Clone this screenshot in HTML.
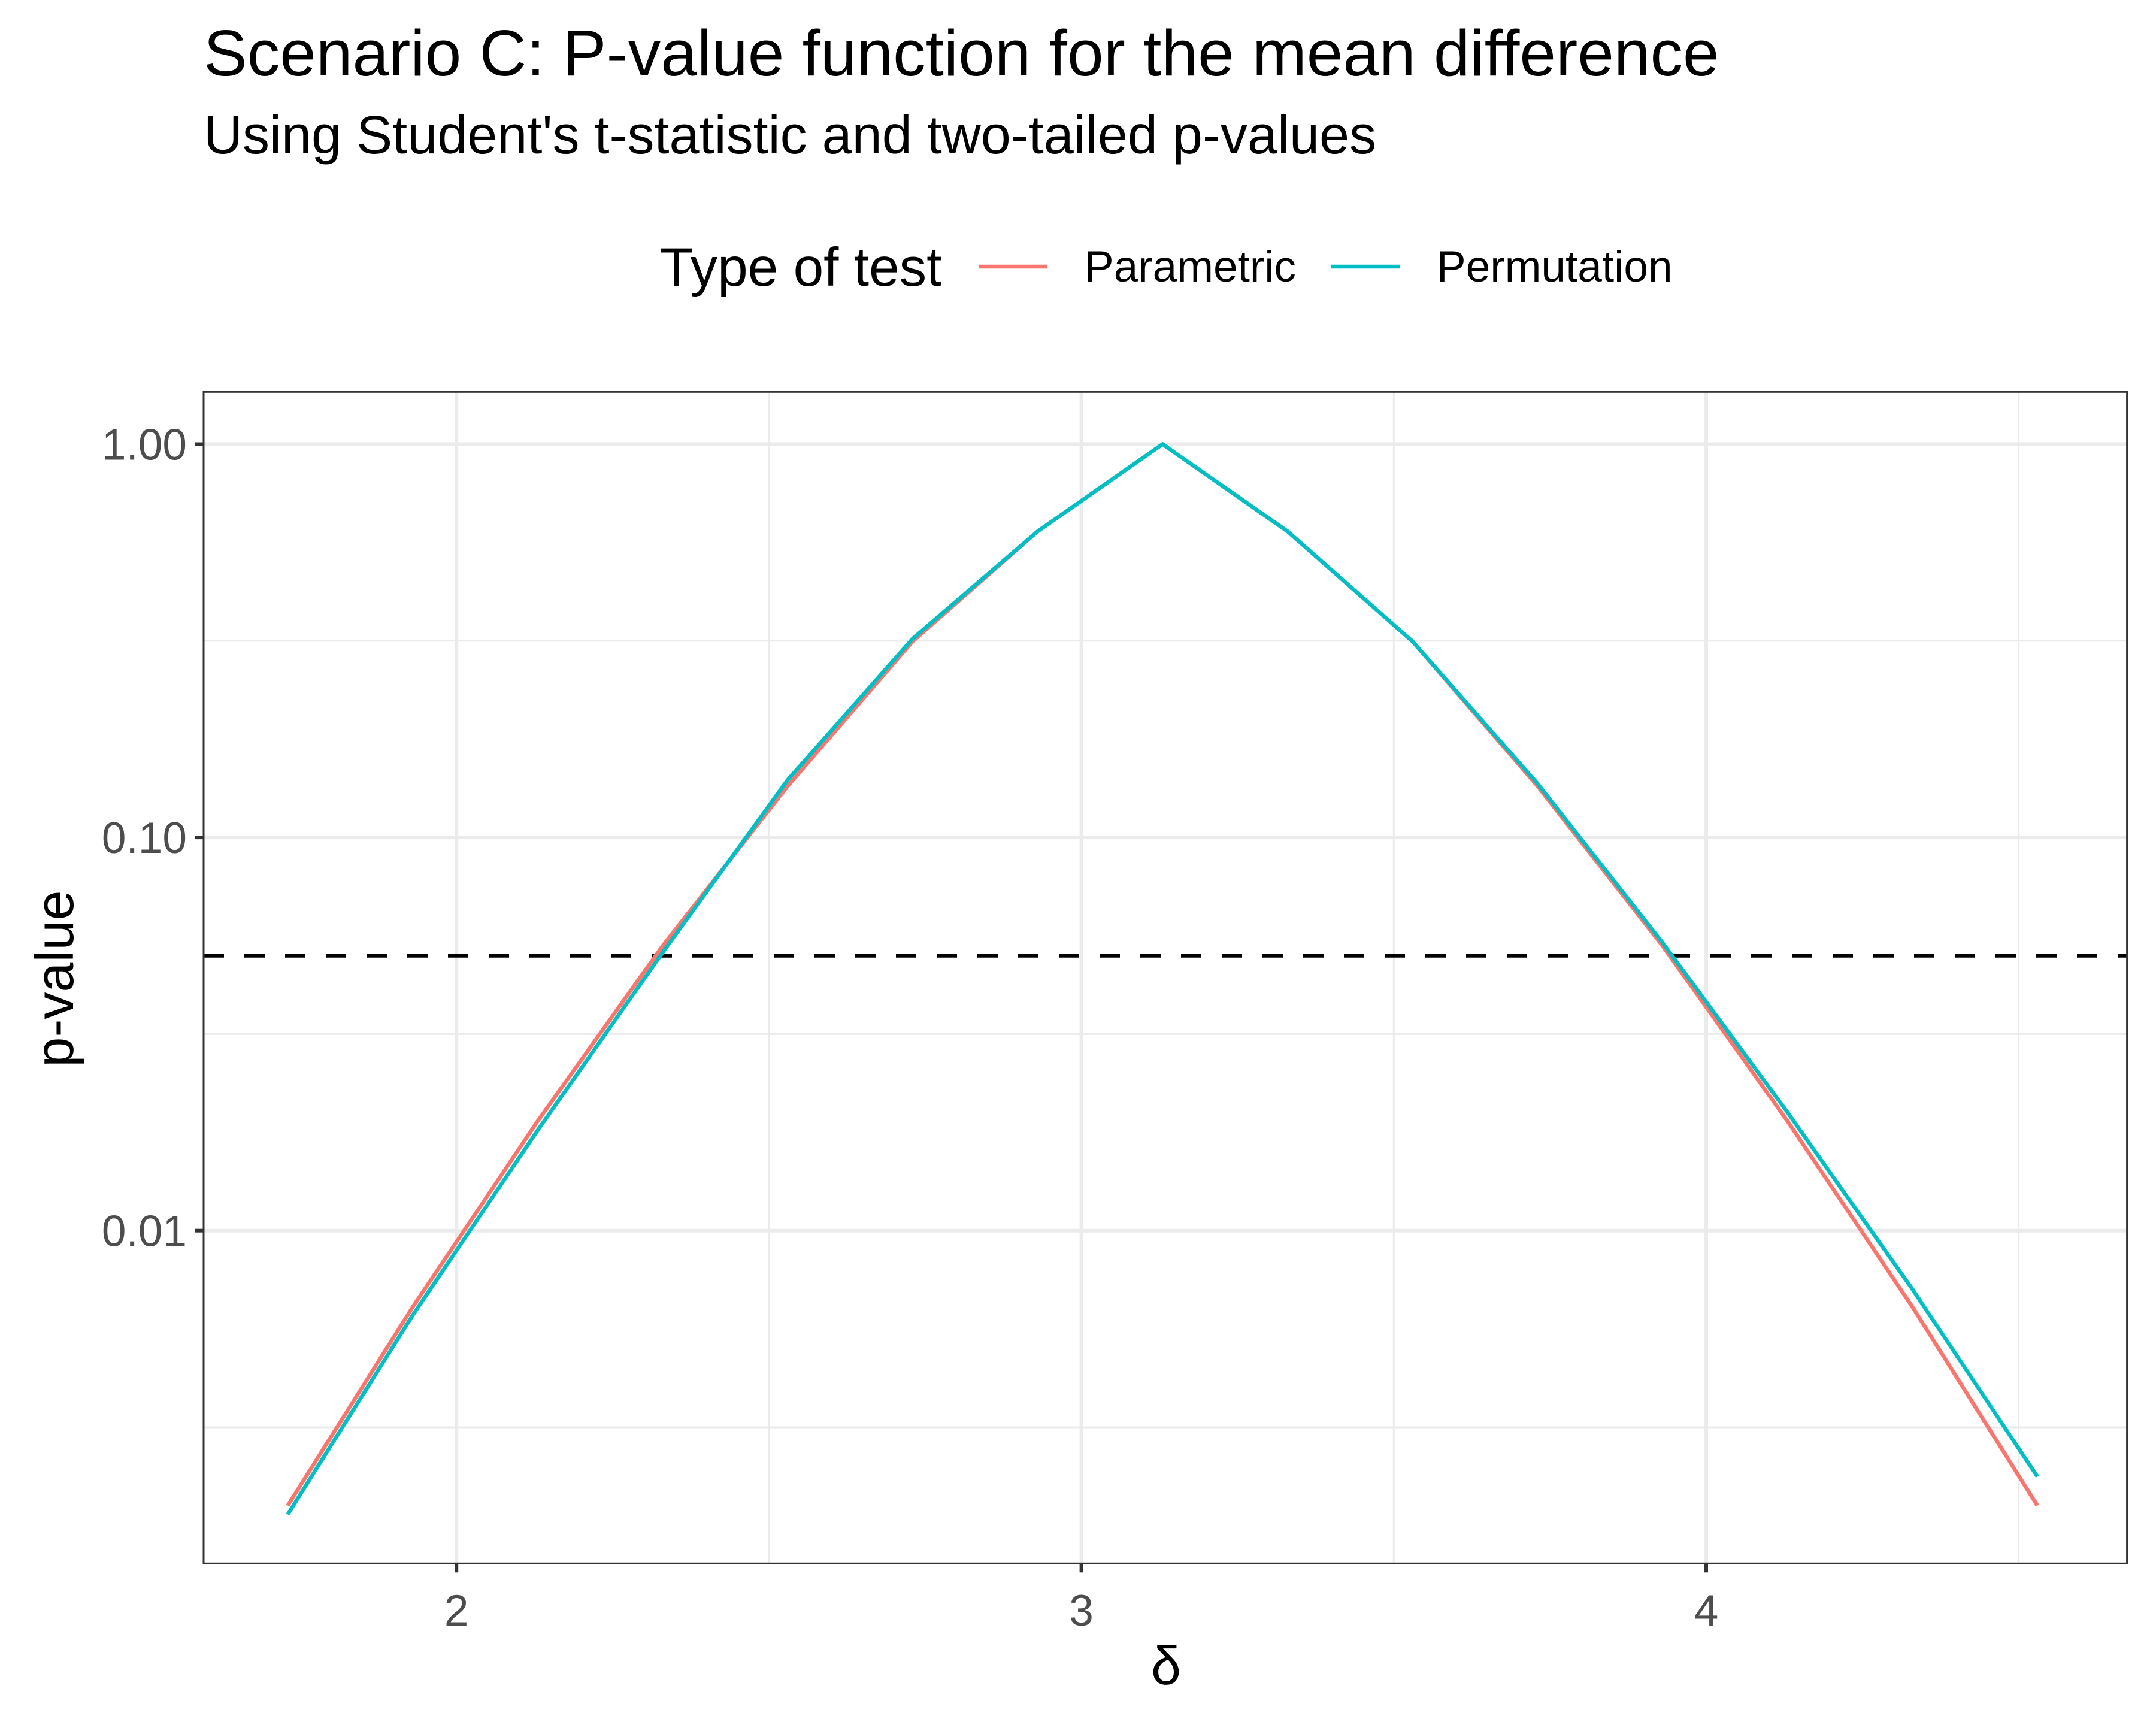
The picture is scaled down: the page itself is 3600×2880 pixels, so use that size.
<!DOCTYPE html>
<html><head><meta charset="utf-8">
<style>
html,body{margin:0;padding:0;background:#fff;}
svg{display:block;font-family:"Liberation Sans",Arial,sans-serif;}
</style></head>
<body>
<svg id="chart" width="3600" height="2880" viewBox="0 0 3600 2880" xmlns="http://www.w3.org/2000/svg">
<rect width="3600" height="2880" fill="#fff"/>
<text x="340" y="126" font-size="109" fill="#000">Scenario C: P-value function for the mean difference</text>
<text x="340" y="256" font-size="90" fill="#000">Using Student's t-statistic and two-tailed p-values</text>
<g>
<text x="1102" y="477" font-size="91" fill="#000">Type of test</text>
<g>
<line x1="1635" y1="445" x2="1749" y2="445" stroke="#F8766D" stroke-width="6.5"/>
<text x="1811" y="470" font-size="73" fill="#000">Parametric</text>
</g>
<g>
<line x1="2222" y1="445" x2="2337" y2="445" stroke="#00BFC4" stroke-width="6.5"/>
<text x="2399" y="470" font-size="73" fill="#000">Permutation</text>
</g>
</g>
<g id="grid"></g>
<g id="marks"></g>
<rect x="340" y="654.3" width="3211.6" height="1956" fill="none" stroke="#333" stroke-width="3"/>
<g id="axes"></g>
<text x="1947" y="2812" font-size="90" text-anchor="middle" fill="#000">δ</text>
<text transform="translate(122,1634) rotate(-90)" font-size="90" text-anchor="middle" fill="#000">p-value</text>
</svg>
<script>
const deltas = [1.73,1.93,2.13,2.33,2.53,2.73,2.93,3.13,3.33,3.53,3.73,3.93,4.13,4.33,4.53];
const parametric = [0.0020,0.0064,0.019,0.053,0.135,0.315,0.60,1.0,0.60,0.315,0.135,0.053,0.019,0.0064,0.0020];
const permutation = [0.0019,0.0061,0.018,0.051,0.14,0.32,0.60,1.0,0.60,0.315,0.137,0.054,0.020,0.0071,0.00237];
const xTicks = [2,3,4];
const xTickLabels = ["2","3","4"];
const xMinor = [2.5,3.5,4.5];
const yTicks = [1,0.1,0.01];
const yTickLabels = ["1.00","0.10","0.01"];
const yMinor = [Math.pow(10,-0.5),Math.pow(10,-1.5),Math.pow(10,-2.5)];
const threshold = 0.05;

const NS="http://www.w3.org/2000/svg";
const PL=340,PR=3551.6,PT=654.3,PB=2610.3;
function xs(v){return 762.2+(v-2)*1043.4;}
function ys(v){return 741.5-Math.log10(v)*656.6;}
function mk(tag,attrs,parent){const e=document.createElementNS(NS,tag);for(const k in attrs)e.setAttribute(k,attrs[k]);parent.appendChild(e);return e;}
const grid=document.getElementById('grid'),marks=document.getElementById('marks'),axes=document.getElementById('axes');
xMinor.forEach(v=>{const l=mk('line',{x1:xs(v),x2:xs(v),y1:PT,y2:PB,stroke:'#EBEBEB','stroke-width':3},grid);

});
yMinor.forEach(v=>{const l=mk('line',{x1:PL,x2:PR,y1:ys(v),y2:ys(v),stroke:'#EBEBEB','stroke-width':3},grid);

});
xTicks.forEach((v,i)=>{const l=mk('line',{x1:xs(v),x2:xs(v),y1:PT,y2:PB,stroke:'#EBEBEB','stroke-width':6},grid);


const t=mk('line',{x1:xs(v),x2:xs(v),y1:PB,y2:PB+15,stroke:'#333','stroke-width':6},axes);


const tx=mk('text',{x:xs(v),y:2714,'font-size':73,'text-anchor':'middle',fill:'#4D4D4D'},axes);tx.textContent=xTickLabels[i];

});
yTicks.forEach((v,i)=>{const l=mk('line',{x1:PL,x2:PR,y1:ys(v),y2:ys(v),stroke:'#EBEBEB','stroke-width':6},grid);


const t=mk('line',{x1:PL-15,x2:PL,y1:ys(v),y2:ys(v),stroke:'#333','stroke-width':6},axes);


const tx=mk('text',{x:PL-28,y:ys(v)+26,'font-size':73,'text-anchor':'end',fill:'#4D4D4D'},axes);tx.textContent=yTickLabels[i];

});
const th=mk('line',{x1:PL,x2:PR,y1:ys(threshold),y2:ys(threshold),stroke:'#000','stroke-width':6,'stroke-dasharray':'34 34'},marks);


function series(vals,color,name){const d=vals.map((v,i)=>(i?'L':'M')+xs(deltas[i]).toFixed(1)+' '+ys(v).toFixed(1)).join(' ');
const p=mk('path',{d:d,fill:'none',stroke:color,'stroke-width':6.5,'stroke-linejoin':'round'},marks);

}
series(parametric,'#F8766D','line-parametric');
series(permutation,'#00BFC4','line-permutation');
</script>
</body></html>
